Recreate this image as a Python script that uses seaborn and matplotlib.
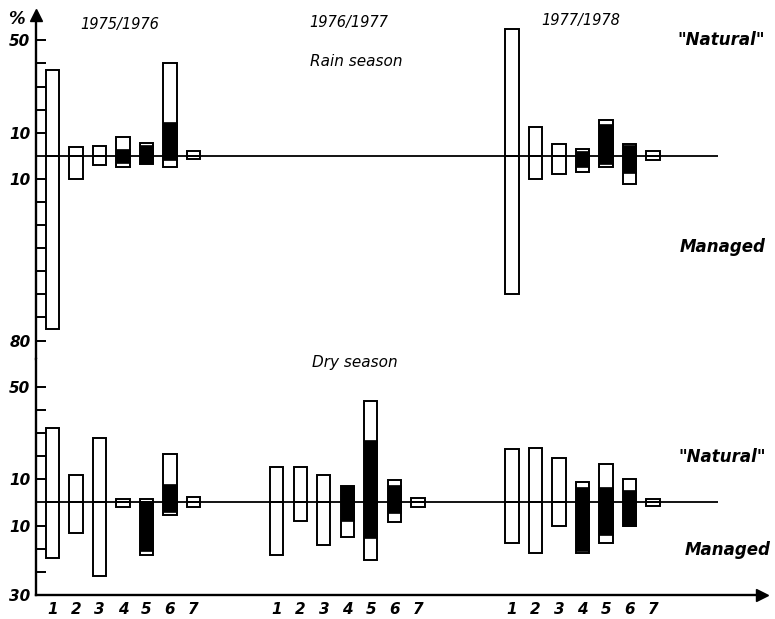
import numpy as np
import pandas as pd
import matplotlib
matplotlib.use("Agg")
import matplotlib.pyplot as plt
import seaborn as sns

# ---------------- data ----------------
categories = ["1", "2", "3", "4", "5", "6", "7"]
years = ["1975/1976", "1976/1977", "1977/1978"]

# Rain season (%): "Natural" (upwards) and Managed (downwards)
rain_nat_total = [[37, 4, 4.3, 8, 5.5, 40, 2],
                  [0, 0, 0, 0, 0, 0, 0],
                  [55, 12.5, 5, 3, 15.5, 5, 2]]
rain_man_total = [[75, 10, 4, 5, 3.5, 5, 1.5],
                  [0, 0, 0, 0, 0, 0, 0],
                  [60, 10, 8, 7, 5, 12, 2]]
rain_nat_black = [[0, 0, 0, 3, 4.5, 14.5, 0],
                  [0, 0, 0, 0, 0, 0, 0],
                  [0, 0, 0, 2, 14, 4.5, 0]]
rain_man_black = [[0, 0, 0, 3, 3, 2, 0],
                  [0, 0, 0, 0, 0, 0, 0],
                  [0, 0, 0, 5, 3.5, 7.5, 0]]

# Dry season (%)
dry_nat_total = [[32, 12, 28, 1.5, 1.5, 21, 2.5],
                 [15.5, 15.5, 12, 7, 44, 9.5, 2],
                 [23, 23.5, 19, 9, 16.5, 10, 1.5]]
dry_man_total = [[24, 13, 32, 2, 22.5, 5.5, 2],
                 [22.5, 8, 18.5, 15, 25, 8.5, 2],
                 [17.5, 22, 10, 22, 17.5, 10, 1.5]]
dry_nat_black = [[0, 0, 0, 0, 0, 8, 0],
                 [0, 0, 0, 7, 27, 7.5, 0],
                 [0, 0, 0, 6.5, 6.5, 5.5, 0]]
dry_man_black = [[0, 0, 0, 0, 21, 4, 0],
                 [0, 0, 0, 8, 15.5, 4.5, 0],
                 [0, 0, 0, 21, 14, 10, 0]]

top_tick_labels = {50: "50", 10: "10", -10: "10", -80: "80"}
bot_tick_labels = {50: "50", 10: "10", -10: "10", -40: "30"}

# ---------------- layout ----------------
group_offset = [0.0, 9.55, 19.55]


def frame(nat_total, man_total, nat_black, man_black):
    rows = []
    for g, yr in enumerate(years):
        for i, c in enumerate(categories):
            rows.append(dict(year=yr, cat=c, pos=group_offset[g] + i,
                             nat=nat_total[g][i], man=-man_total[g][i],
                             natb=nat_black[g][i], manb=-man_black[g][i]))
    return pd.DataFrame(rows)


rain = frame(rain_nat_total, rain_man_total, rain_nat_black, rain_man_black)
dry = frame(dry_nat_total, dry_man_total, dry_nat_black, dry_man_black)

sns.set_style("ticks")
plt.rcParams["font.family"] = ["DejaVu Sans"]
for k in ["text.color", "axes.labelcolor", "xtick.color", "ytick.color",
          "axes.edgecolor"]:
    plt.rcParams[k] = "black"

W, H = 775, 619
fig = plt.figure(figsize=(W / 100, H / 100), dpi=100)
left = 36 / W
width = (762 - 36) / W
ax_top = fig.add_axes([left, (H - 359) / H, width, 344 / H])
ax_bot = fig.add_axes([left, (H - 595) / H, width, 236 / H])

xlim = (-0.70, 30.19)
bar_w = 0.56
lw = 1.4


def draw(ax, df):
    for col in ["nat", "man"]:
        sns.barplot(data=df, x="pos", y=col, native_scale=True, color="white",
                    saturation=1, edgecolor="black", linewidth=lw,
                    errorbar=None, width=bar_w, ax=ax, zorder=2)
    for col in ["natb", "manb"]:
        sns.barplot(data=df, x="pos", y=col, native_scale=True, color="black",
                    saturation=1, edgecolor="black", linewidth=0.5,
                    errorbar=None, width=bar_w, ax=ax, zorder=3)
    # hide empty (zero-height) bars
    for p in ax.patches:
        if abs(p.get_height()) < 1e-9:
            p.set_visible(False)
    ax.hlines(0, xlim[0], 28.3, color="black", lw=1.3, zorder=4)
    ax.set_xlim(*xlim)
    ax.set_xlabel("")
    ax.set_ylabel("")
    for s in ["top", "right"]:
        ax.spines[s].set_visible(False)
    ax.spines["left"].set_linewidth(1.7)
    ax.tick_params(axis="y", direction="in", length=7, width=1.4, pad=4)


draw(ax_top, rain)
draw(ax_bot, dry)

tick_font = dict(fontsize=11, fontweight="bold", fontstyle="italic")

# top panel y axis
ax_top.set_ylim(-88, 61)
ax_top.spines["bottom"].set_visible(False)
top_ticks = [t for t in range(50, -90, -10) if t != 0]
ax_top.set_yticks(top_ticks)
ax_top.set_yticklabels([top_tick_labels.get(t, "") for t in top_ticks], **tick_font)
ax_top.set_xticks([])
ax_top.plot(0, 1, marker="^", markersize=9, color="black",
            transform=ax_top.transAxes, clip_on=False)

# bottom panel
ax_bot.set_ylim(-40, 62)
bot_ticks = [50, 40, 30, 20, 10, -10, -20, -30, -40]
ax_bot.set_yticks(bot_ticks)
ax_bot.set_yticklabels([bot_tick_labels.get(t, "") for t in bot_ticks], **tick_font)
ax_bot.spines["bottom"].set_linewidth(1.7)
ax_bot.set_xticks(dry["pos"].values)
ax_bot.set_xticklabels(dry["cat"].values, **tick_font)
ax_bot.tick_params(axis="x", length=0, pad=5)
ax_bot.plot(1, 0, marker=">", markersize=9, color="black",
            transform=ax_bot.transAxes, clip_on=False)


def ftext(x, y, s, size=12, weight="normal"):
    fig.text(x / W, 1 - y / H, s, ha="center", va="center", fontsize=size,
             fontstyle="italic", fontweight=weight, color="black")


ftext(16, 19, "%", 12, "bold")
ftext(120, 24, years[0], 10.5)
ftext(349, 22, years[1], 10.5)
ftext(581, 21, years[2], 10.5)
ftext(356, 61, "Rain season", 11)
ftext(721, 40, "\"Natural\"", 12, "bold")
ftext(723, 247, "Managed", 12, "bold")
ftext(355, 363, "Dry season", 11)
ftext(722, 457, "\"Natural\"", 12, "bold")
ftext(728, 550, "Managed", 12, "bold")

fig.savefig("out.png", dpi=100)
